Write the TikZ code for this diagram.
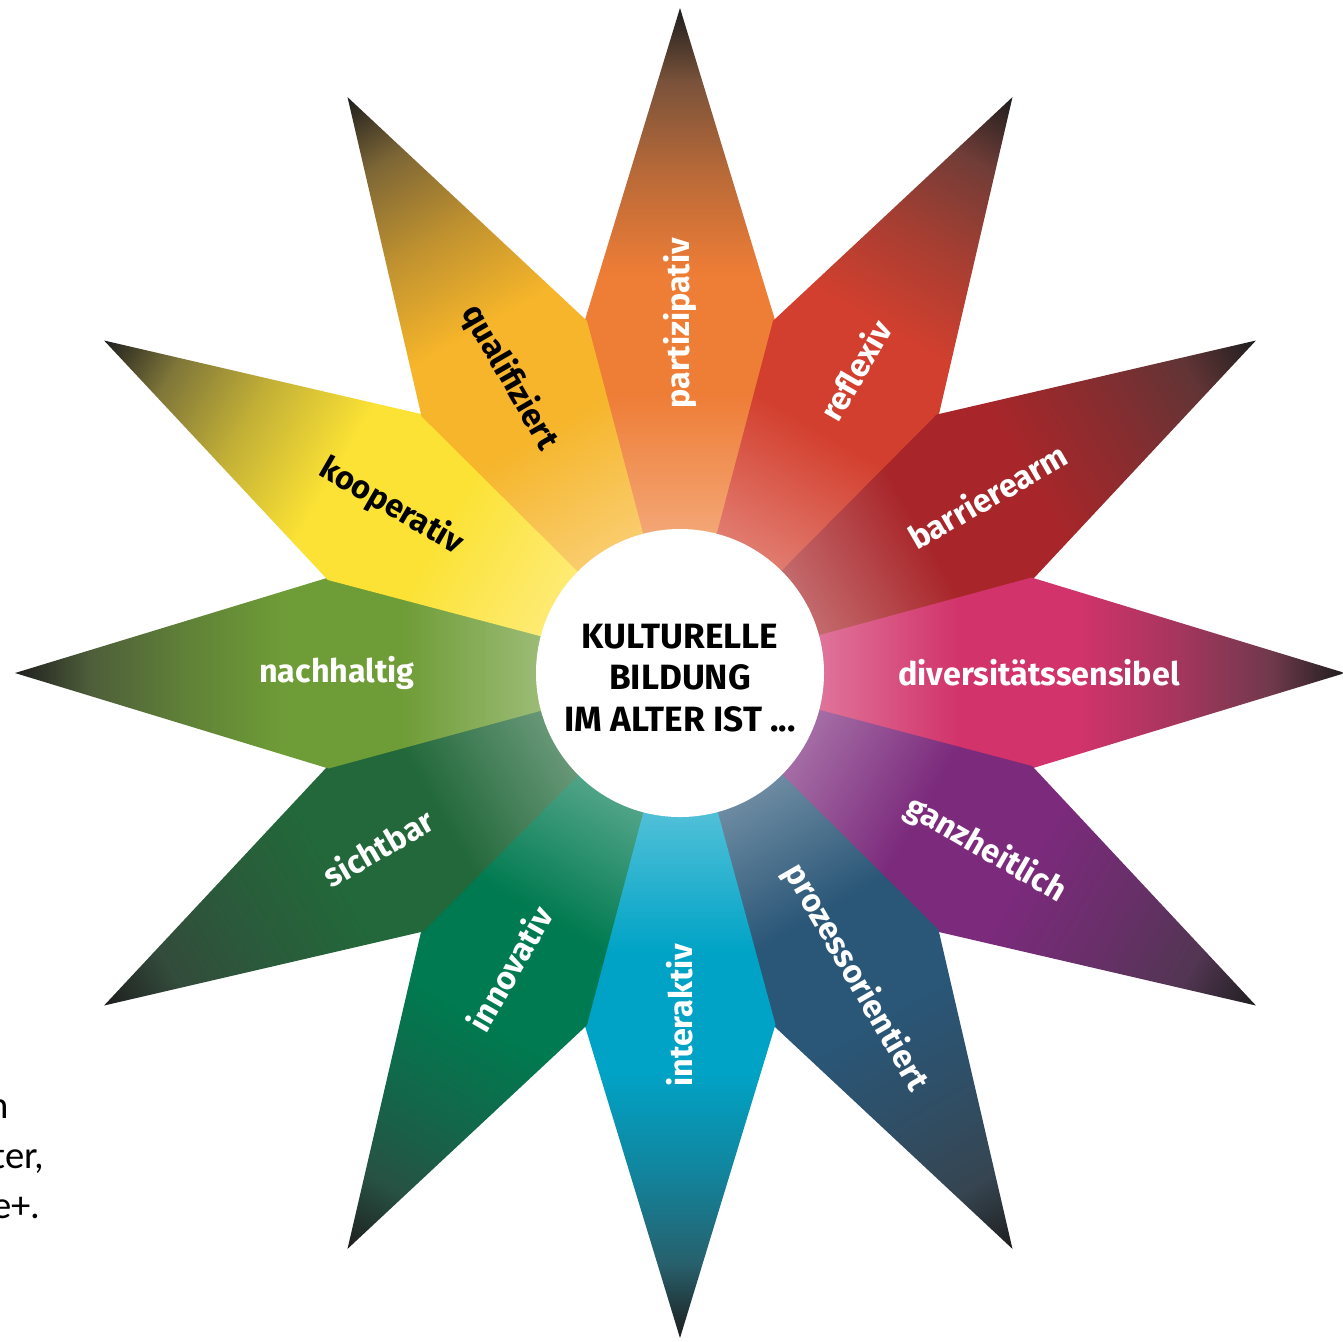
\documentclass[tikz,border=0pt]{standalone}
\usepackage{fontspec}
\setmainfont{Fira Sans}
\newfontfamily\capfont{Carlito}

\definecolor{tipgray}{HTML}{3C3C3C}
\definecolor{tipblack}{HTML}{1E1E1E}
\definecolor{partcol}{HTML}{EE7D36}
\definecolor{reflcol}{HTML}{D33F2E}
\definecolor{barrcol}{HTML}{A8262A}
\definecolor{divecol}{HTML}{D1336A}
\definecolor{ganzcol}{HTML}{7B2A7C}
\definecolor{prozcol}{HTML}{2A5677}
\definecolor{intecol}{HTML}{00A3C6}
\definecolor{innocol}{HTML}{007A50}
\definecolor{sichcol}{HTML}{22683A}
\definecolor{nachcol}{HTML}{6E9C36}
\definecolor{koopcol}{HTML}{FCE234}
\definecolor{qualcol}{HTML}{F6B52A}
\colorlet{raymain}{black}

% light at the hub, full colour in the middle, dark at the tip
\pgfdeclareverticalshading[raymain]{rayshade}{100bp}{%
  color(0bp)=(raymain!40!white); color(25bp)=(raymain!40!white);
  color(36bp)=(raymain!70!white); color(46bp)=(raymain);
  color(55bp)=(raymain); color(62.6bp)=(raymain!70!tipgray);
  color(69.4bp)=(raymain!35!tipgray); color(75bp)=(tipblack);
  color(100bp)=(tipblack)}

\tikzset{
  ray/.style={/utils/exec={\colorlet{raymain}{#1}}, shading=rayshade},
  lab/.style={text=white, font=\fontsize{9.2}{11}\selectfont\bfseries, inner sep=1pt},
  hub/.style={circle, fill=white, minimum size=2.88cm, inner sep=0pt},
  hubtext/.style={align=center, font=\fontsize{10}{11.7}\selectfont\bfseries},
  captext/.style={anchor=base east, inner sep=0pt, font=\capfont\fontsize{11}{13}\selectfont}
}

\begin{document}
\begin{tikzpicture}
  \useasboundingbox (-6.80,-6.68) rectangle (6.63,6.73);
  \clip (-6.80,-6.68) rectangle (6.63,6.73);
  % rays, each drawn pointing up and turned into place
  \begin{scope}[transform canvas={rotate=0}]
    \shade[ray=partcol] (0,0) -- (-0.955,3.515) -- (0,6.65) -- (0.955,3.515) -- cycle;
  \end{scope}
  \begin{scope}[transform canvas={rotate=-30}]
    \shade[ray=reflcol] (0,0) -- (-0.955,3.515) -- (0,6.65) -- (0.955,3.515) -- cycle;
  \end{scope}
  \begin{scope}[transform canvas={rotate=-60}]
    \shade[ray=barrcol] (0,0) -- (-0.955,3.515) -- (0,6.65) -- (0.955,3.515) -- cycle;
  \end{scope}
  \begin{scope}[transform canvas={rotate=-90}]
    \shade[ray=divecol] (0,0) -- (-0.955,3.515) -- (0,6.65) -- (0.955,3.515) -- cycle;
  \end{scope}
  \begin{scope}[transform canvas={rotate=-120}]
    \shade[ray=ganzcol] (0,0) -- (-0.955,3.515) -- (0,6.65) -- (0.955,3.515) -- cycle;
  \end{scope}
  \begin{scope}[transform canvas={rotate=-150}]
    \shade[ray=prozcol] (0,0) -- (-0.955,3.515) -- (0,6.65) -- (0.955,3.515) -- cycle;
  \end{scope}
  \begin{scope}[transform canvas={rotate=180}]
    \shade[ray=intecol] (0,0) -- (-0.955,3.515) -- (0,6.65) -- (0.955,3.515) -- cycle;
  \end{scope}
  \begin{scope}[transform canvas={rotate=150}]
    \shade[ray=innocol] (0,0) -- (-0.955,3.515) -- (0,6.65) -- (0.955,3.515) -- cycle;
  \end{scope}
  \begin{scope}[transform canvas={rotate=120}]
    \shade[ray=sichcol] (0,0) -- (-0.955,3.515) -- (0,6.65) -- (0.955,3.515) -- cycle;
  \end{scope}
  \begin{scope}[transform canvas={rotate=90}]
    \shade[ray=nachcol] (0,0) -- (-0.955,3.515) -- (0,6.65) -- (0.955,3.515) -- cycle;
  \end{scope}
  \begin{scope}[transform canvas={rotate=60}]
    \shade[ray=koopcol] (0,0) -- (-0.955,3.515) -- (0,6.65) -- (0.955,3.515) -- cycle;
  \end{scope}
  \begin{scope}[transform canvas={rotate=30}]
    \shade[ray=qualcol] (0,0) -- (-0.955,3.515) -- (0,6.65) -- (0.955,3.515) -- cycle;
  \end{scope}
  % labels
  \node[lab, rotate=90] (partizipativ) at (90:3.50) {partizipativ};
  \node[lab, rotate=60] (reflexiv) at (60:3.50) {reflexiv};
  \node[lab, rotate=30] (barrierearm) at (30:3.55) {barrierearm};
  \node[lab] (diversitaet) at (0:3.59) {diversitätssensibel};
  \node[lab, rotate=-30] (ganzheitlich) at (-30:3.53) {ganzheitlich};
  \node[lab, rotate=-60] (prozess) at (-60:3.52) {prozessorientiert};
  \node[lab, rotate=90] (interaktiv) at (-90:3.42) {interaktiv};
  \node[lab, rotate=60] (innovativ) at (-120:3.41) {innovativ};
  \node[lab, rotate=30] (sichtbar) at (-150:3.49) {sichtbar};
  \node[lab] (nachhaltig) at (180:3.43) {nachhaltig};
  \node[lab, text=black, rotate=-30] (kooperativ) at (150:3.33) {kooperativ};
  \node[lab, text=black, rotate=-60] (qualifiziert) at (120:3.41) {qualifiziert};
  % hub
  \node[hub] (hub) at (0,0) {};
  \node[hubtext] (hubtitle) at (0,-0.05) {KULTURELLE\\BILDUNG\\IM ALTER IST ...};
  % cut-off caption at the left edge
  \node[captext] (capa) at (-6.70,-4.45) {n};
  \node[captext] (capb) at (-6.35,-4.95) {ter,};
  \node[captext] (capc) at (-6.39,-5.45) {e+.};
\end{tikzpicture}
\end{document}
